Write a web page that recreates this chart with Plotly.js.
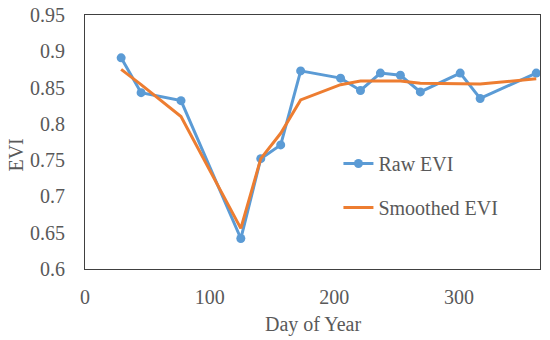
<!DOCTYPE html>
<html>
<head>
<meta charset="utf-8">
<script src="https://cdn.plot.ly/plotly-3.0.1.min.js"></script>
<style>html,body{margin:0;padding:0;background:#fff;}#chart{width:550px;height:340px;}</style>
</head>
<body>
<div id="chart"></div>
<script>
var dayOfYear = [29, 45, 77, 125, 141, 157, 173, 205, 221, 237, 253, 269, 301, 317, 362];
var rawEVI = [0.891, 0.843, 0.832, 0.642, 0.752, 0.771, 0.873, 0.863, 0.846, 0.870, 0.867, 0.844, 0.870, 0.835, 0.870];
var smoothedEVI = [0.875, 0.854, 0.810, 0.656, 0.752, 0.787, 0.833, 0.854, 0.859, 0.859, 0.859, 0.856, 0.856, 0.855, 0.862];
var xTicks = [0, 100, 200, 300];
var yTicks = [0.6, 0.65, 0.7, 0.75, 0.8, 0.85, 0.9, 0.95];
var yTickText = ['0.6', '0.65', '0.7', '0.75', '0.8', '0.85', '0.9', '0.95'];

var fontFam = 'Liberation Serif, Times New Roman, serif';
var grey = '#595959';

var traces = [
  {x: dayOfYear, y: rawEVI, name: 'Raw EVI', type: 'scatter', mode: 'lines+markers',
   line: {color: '#5B9BD5', width: 3}, marker: {color: '#5B9BD5', size: 9}, legendgroup: 'a', cliponaxis: false},
  {x: dayOfYear, y: smoothedEVI, name: 'Smoothed EVI', type: 'scatter', mode: 'lines',
   line: {color: '#ED7D31', width: 3}, legendgroup: 'b'}
];

var layout = {
  width: 550, height: 340,
  margin: {l: 85, r: 10, t: 15, b: 71},
  paper_bgcolor: '#fff', plot_bgcolor: '#fff',
  font: {family: fontFam, size: 20, color: grey},
  showlegend: true,
  legend: {x: 0.557, y: 0.492, xanchor: 'left', yanchor: 'top', bgcolor: 'rgba(0,0,0,0)',
           tracegroupgap: 15, font: {family: fontFam, size: 20, color: grey}},
  xaxis: {range: [0, 365], tickvals: xTicks, ticktext: xTicks.map(String), showgrid: false, zeroline: false,
          showline: true, mirror: true, linecolor: '#404040', linewidth: 1, ticks: '', ticklabelstandoff: 10,
          tickfont: {family: fontFam, size: 20, color: grey}},
  yaxis: {range: [0.6, 0.95], tickvals: yTicks, ticktext: yTickText, showgrid: false, zeroline: false,
          showline: true, mirror: true, linecolor: '#404040', linewidth: 1, ticks: '', ticklabelstandoff: 15,
          tickfont: {family: fontFam, size: 20, color: grey}},
  annotations: [
    {text: 'Day of Year', xref: 'paper', yref: 'paper', x: 0.5, y: -0.22, xanchor: 'center', yanchor: 'middle',
     showarrow: false, font: {family: fontFam, size: 20, color: grey}},
    {text: 'EVI', xref: 'paper', yref: 'paper', x: -0.152, y: 0.45, xanchor: 'center', yanchor: 'middle',
     textangle: -90, showarrow: false, font: {family: fontFam, size: 20, color: grey}}
  ]
};

Plotly.newPlot('chart', traces, layout, {staticPlot: true, displayModeBar: false});
</script>
</body>
</html>
